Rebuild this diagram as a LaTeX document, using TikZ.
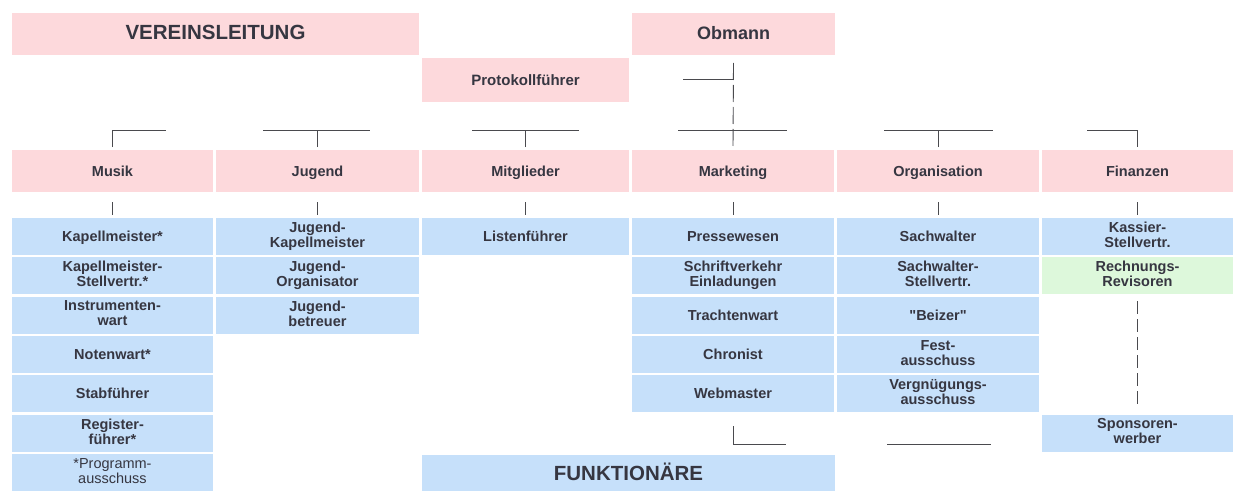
\documentclass[tikz,border=0pt]{standalone}
\usepackage{fontspec}
\setmainfont{Liberation Sans}[Ligatures=TeXOff]
\definecolor{rosa}{HTML}{FDD9DC}
\definecolor{hblau}{HTML}{C6E0FA}
\definecolor{hgruen}{HTML}{DDF8DB}
\definecolor{schrift}{HTML}{363641}
\definecolor{linie}{HTML}{4A4A4E}
\newcommand\stuetze{\rule[-3.2pt]{0pt}{16.8pt}}
\tikzset{
  feld/.style={inner sep=0pt, outer sep=0pt, align=center, anchor=north west,
    text=schrift, font=\bfseries\fontsize{14.5}{15}\selectfont, minimum height=37pt,
    execute at begin node=\stuetze, execute at end node=\stuetze},
  kat/.style={feld, fill=rosa, minimum height=42pt},
  amt/.style={feld, fill=hblau},
  rev/.style={feld, fill=hgruen},
  gross/.style={font=\bfseries\fontsize{20.5}{22}\selectfont},
  strich/.style={draw=linie, line width=0.9pt},
  s1/.style={minimum width=201pt},
  s2/.style={minimum width=203pt},
  s3/.style={minimum width=207pt},
  s4/.style={minimum width=202pt},
  s5/.style={minimum width=202pt},
  s6/.style={minimum width=191pt}
}
\begin{document}
\begin{tikzpicture}[x=1pt,y=-1pt]
      \useasboundingbox (0,0) rectangle (1247,492);
      \node[kat, gross, minimum width=407pt] (vl) at (12,13) {VEREINSLEITUNG};
      \node[kat, s2, font=\bfseries\fontsize{18}{20}\selectfont] (obm) at (632,13) {Obmann};
      \node[kat, s3, minimum height=44pt, font=\bfseries\fontsize{15}{16}\selectfont] (prot) at (422,58) {Protokollführer};
      \node[kat, s1] (mus) at (12,150) {Musik};
      \node[kat, s2] (jug) at (216,150) {Jugend};
      \node[kat, s3] (mit) at (422,150) {Mitglieder};
      \node[kat, s4] (mkt) at (632,150) {Marketing};
      \node[kat, s5] (org) at (837,150) {Organisation};
      \node[kat, s6] (fin) at (1042,150) {Finanzen};
      \node[amt, s1] (m1) at (12,218) {Kapellmeister*};
      \node[amt, s1] (m2) at (12,257.3) {Kapellmeister-\\Stellvertr.*};
      \node[amt, s1] (m3) at (12,296.6) {Instrumenten-\\wart};
      \node[amt, s1] (m4) at (12,335.9) {Notenwart*};
      \node[amt, s1] (m5) at (12,375.2) {Stabführer};
      \node[amt, s1] (m6) at (12,414.5) {Register-\\führer*};
      \node[amt, s1, font=\fontsize{14.5}{15}\selectfont] (m7) at (12,453.8) {*Programm-\\ausschuss};
      \node[amt, s2] (j1) at (216,218) {Jugend-\\Kapellmeister};
      \node[amt, s2] (j2) at (216,257.3) {Jugend-\\Organisator};
      \node[amt, s2] (j3) at (216,296.6) {Jugend-\\betreuer};
      \node[amt, s3] (l1) at (422,218) {Listenführer};
      \node[amt, s4] (k1) at (632,218) {Pressewesen};
      \node[amt, s4] (k2) at (632,257.3) {Schriftverkehr\\Einladungen};
      \node[amt, s4] (k3) at (632,296.6) {Trachtenwart};
      \node[amt, s4] (k4) at (632,335.9) {Chronist};
      \node[amt, s4] (k5) at (632,375.2) {Webmaster};
      \node[amt, s5] (o1) at (837,218) {Sachwalter};
      \node[amt, s5] (o2) at (837,257.3) {Sachwalter-\\Stellvertr.};
      \node[amt, s5] (o3) at (837,296.6) {"Beizer"};
      \node[amt, s5] (o4) at (837,335.9) {Fest-\\ausschuss};
      \node[amt, s5] (o5) at (837,375.2) {Vergnügungs-\\ausschuss};
      \node[amt, s6] (f1) at (1042,218) {Kassier-\\Stellvertr.};
      \node[rev, s6] (f2) at (1042,257.3) {Rechnungs-\\Revisoren};
      \node[amt, s6] (f6) at (1042,414.5) {Sponsoren-\\werber};
      \node[amt, gross, minimum width=413pt, minimum height=36pt] (fkt) at (422,455) {FUNKTIONÄRE};
      \coordinate (p1) at (683,79);
      \coordinate (r1) at (166,130);
      \coordinate (r2) at (263,130);
      \coordinate (r3) at (370,130);
      \coordinate (r4) at (472,130);
      \coordinate (r5) at (579,130);
      \coordinate (r6) at (678,130);
      \coordinate (r7) at (787,130);
      \coordinate (r8) at (884,130);
      \coordinate (r9) at (993,130);
      \coordinate (r10) at (1087,130);
      \coordinate (u1) at (786,444);
      \coordinate (u2) at (887,444);
      \coordinate (u3) at (991,444);
      \begin{scope}[strich]
        \draw[dash pattern=on 17pt off 5pt] ([yshift=-8pt]obm.south) -- ([yshift=3pt]mkt.north);
        \draw (p1) -- (p1 -| obm.south);
        \draw ([yshift=3pt]mus.north) |- (r1);
        \draw (r2) -- (r3);
        \draw ([yshift=3pt]jug.north) -- (jug.north |- r2);
        \draw (r4) -- (r5);
        \draw ([yshift=3pt]mit.north) -- (mit.north |- r4);
        \draw (r6) -- (r7);
        \draw (r8) -- (r9);
        \draw ([yshift=3pt]org.north) -- (org.north |- r8);
        \draw (r10) -| ([yshift=3pt]fin.north);
        \draw ([yshift=-10pt]mus.south) -- ([yshift=3pt]m1.north);
        \draw ([yshift=-10pt]jug.south) -- ([yshift=3pt]j1.north);
        \draw ([yshift=-10pt]mit.south) -- ([yshift=3pt]l1.north);
        \draw ([yshift=-10pt]mkt.south) -- ([yshift=3pt]k1.north);
        \draw ([yshift=-10pt]org.south) -- ([yshift=3pt]o1.north);
        \draw ([yshift=-10pt]fin.south) -- ([yshift=3pt]f1.north);
        \draw[dash pattern=on 13pt off 5pt] ([yshift=-7pt]f2.south) -- ([yshift=6pt]f6.north);
        \draw ([yshift=-14pt]k5.south) |- (u1);
        \draw (u2) -- (u3);
      \end{scope}
    \end{tikzpicture}
\end{document}
